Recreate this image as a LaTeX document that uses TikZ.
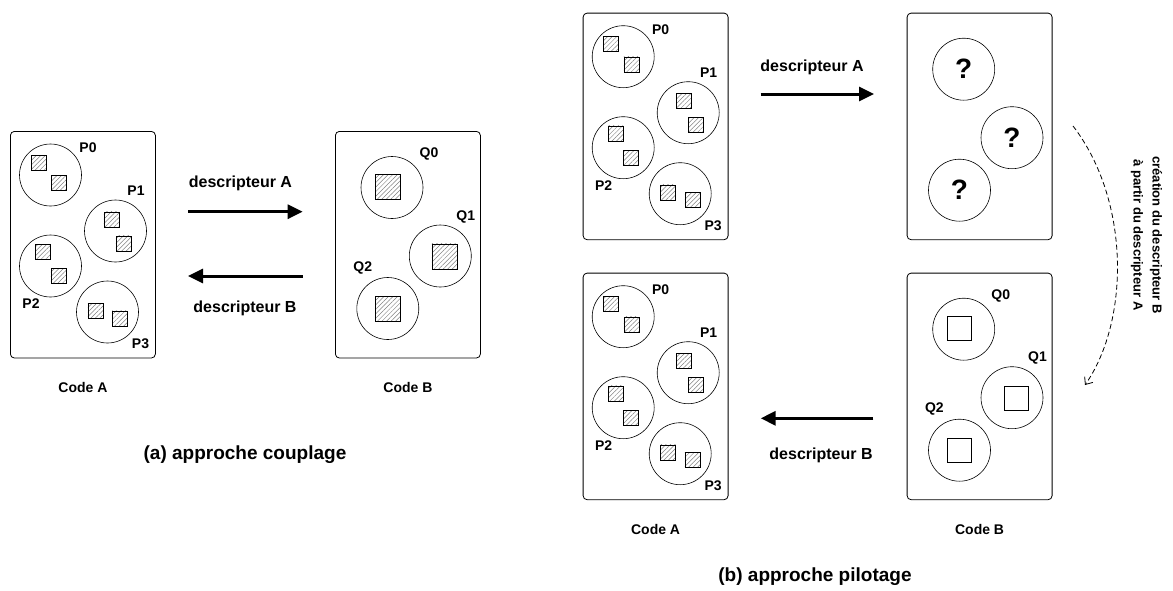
\documentclass[tikz,border=0pt]{standalone}
\usepackage{fontspec}
\setmainfont{Liberation Sans}
\usetikzlibrary{positioning,arrows.meta,patterns.meta}

\tikzset{
  codebox/.style={draw, line width=0.8pt, rounded corners=4pt, minimum width=145pt,
                  minimum height=226.6pt, inner sep=0pt, anchor=north west},
  proc/.style={draw, circle, line width=0.6pt, minimum size=62pt, inner sep=0pt},
  blk/.style={draw, line width=0.6pt, minimum size=15pt, inner sep=0pt,
              pattern={Lines[angle=45,distance=3.2pt,line width=0.5pt]}, pattern color=gray},
  bigblk/.style={blk, minimum size=25pt},
  voidblk/.style={draw, line width=0.6pt, minimum size=24pt, inner sep=0pt},
  lab/.style={font=\bfseries\fontsize{14}{16}\selectfont, inner sep=0pt},
  desc/.style={font=\bfseries\fontsize{16}{19}\selectfont, inner sep=0pt},
  caption/.style={font=\bfseries\fontsize{19}{22}\selectfont, inner sep=0pt},
  flow/.style={line width=3pt, -{Triangle[length=15pt,width=14pt]}},
}

% processes of code A, #1 = prefix of the names
\newcommand\procsA[1]{%
  \node[proc] (#1p0) at (40.5,44) {};
  \node[proc] (#1p1) at (105.5,100) {};
  \node[proc] (#1p2) at (40.5,135) {};
  \node[proc] (#1p3) at (97.5,181) {};
  \node[blk] (#1p0a) at (28.5,31.5) {};
  \node[blk] (#1p0b) at (48.7,51.7) {};
  \node[blk] (#1p1a) at (101.3,88.3) {};
  \node[blk] (#1p1b) at (113.3,112.3) {};
  \node[blk] (#1p2a) at (32.8,120.7) {};
  \node[blk] (#1p2b) at (48.3,145) {};
  \node[blk] (#1p3a) at (85.3,179.7) {};
  \node[blk] (#1p3b) at (109.7,187.3) {};
  \node[lab] (#1l0) at (78,16.5) {P0};
  \node[lab] (#1l1) at (126,59.7) {P1};
  \node[lab] (#1l2) at (21,173) {P2};
  \node[lab] (#1l3) at (130.5,213) {P3};
}

% processes of code B, #2 = style of the blocks
\newcommand\procsB[2]{%
  \node[proc] (#1q0) at (57,56.5) {};
  \node[proc] (#1q1) at (105.3,125) {};
  \node[proc] (#1q2) at (52.8,177.5) {};
  \node[#2] (#1q0a) at (52.8,56) {};
  \node[#2] (#1q1a) at (109.3,125.3) {};
  \node[#2] (#1q2a) at (52.8,177.5) {};
  \node[lab] (#1l0) at (94,23) {Q0};
  \node[lab] (#1l1) at (130.8,85.7) {Q1};
  \node[lab] (#1l2) at (27.7,136.5) {Q2};
}

\begin{document}
\begin{tikzpicture}[x=1pt,y=-1pt]
\useasboundingbox (0,0) rectangle (1173,590);

% (a) couplage
\node[codebox] (aA) at (10,131) {};
\scope[shift={(10,131)}] \procsA{aA} \endscope
\node[lab, below=24pt of aA] (aAname) {Code A};

\node[codebox] (aB) at (335,131) {};
\scope[shift={(335,131)}] \procsB{aB}{bigblk} \endscope
\node[lab, below=24pt of aB] (aBname) {Code B};

\coordinate (aAout) at (188,211.7);
\coordinate (aBin) at (302.7,211.7);
\coordinate (aBout) at (302.7,276);
\coordinate (aAin) at (188,276);
\draw[flow] (aAout) -- (aBin);
\draw[flow] (aBout) -- (aAin);
\node[desc] (aDescA) at (240.5,183) {descripteur A};
\node[desc] (aDescB) at (245,308) {descripteur B};

\node[caption] (aCap) at (245,455) {(a) approche couplage};

% (b) pilotage, top row
\node[codebox] (bA) at (582.7,12.7) {};
\scope[shift={(582.7,12.7)}] \procsA{bA} \endscope

\node[codebox] (bQ) at (906.7,12.7) {};
\scope[shift={(906.7,12.7)}, every node/.style={font=\bfseries\fontsize{28}{30}\selectfont}]
  \node[proc] (bQq0) at (57,56.5) {?};
  \node[proc] (bQq1) at (105.3,125) {?};
  \node[proc] (bQq2) at (52.8,177.5) {?};
\endscope

% (b) pilotage, bottom row
\node[codebox] (bA2) at (582.7,272.7) {};
\scope[shift={(582.7,272.7)}] \procsA{bA2} \endscope
\node[lab, below=24pt of bA2] (bAname) {Code A};

\node[codebox] (bB) at (906.7,272.7) {};
\scope[shift={(906.7,272.7)}] \procsB{bB}{voidblk} \endscope
\node[lab, below=24pt of bB] (bBname) {Code B};

\coordinate (bAout) at (760.7,94);
\coordinate (bQin) at (874,94);
\coordinate (bBout) at (873.3,418.3);
\coordinate (bAin) at (760.7,418.3);
\draw[flow] (bAout) -- (bQin);
\draw[flow] (bBout) -- (bAin);
\node[desc] (bDescA) at (812,67) {descripteur A};
\node[desc] (bDescB) at (821,455) {descripteur B};

% creation of descriptor B
\coordinate (bQside) at (1073,126);
\coordinate (bBside) at (1085,385);
\draw[line width=0.8pt, dash pattern=on 5pt off 3pt, -{Straight Barb[length=6pt,width=10pt]}]
  (bQside) .. controls (1130,200) and (1130,320) .. (bBside);
\node[font=\bfseries\fontsize{13}{19}\selectfont, align=center, rotate=-90] (bNote)
  at (1146.5,235) {création du descripteur B\\à partir du descripteur A};

\node[caption] (bCap) at (815,577) {(b) approche pilotage};

\end{tikzpicture}
\end{document}
